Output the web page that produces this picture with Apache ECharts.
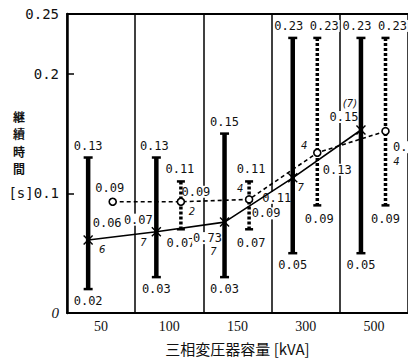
<!DOCTYPE html>
<html><head><meta charset="utf-8">
<script src="https://cdn.jsdelivr.net/npm/echarts@6/dist/echarts.min.js"></script>
<style>html,body{margin:0;padding:0;background:#fff}#c{width:408px;height:361px}</style>
</head><body><div id="c"></div><script>
// ---- data ----
const categories = ['50', '100', '150', '300', '500'];
const solidLow  = [0.02, 0.03, 0.03, 0.05, 0.05];
const solidHigh = [0.13, 0.13, 0.15, 0.23, 0.23];
const solidMean = [0.061, 0.068, 0.076, 0.113, 0.153];
const solidMeanText = ['0.06', '0.07', '0.73', '0.11', '0.15'];
const solidCount = ['6', '7', '7', '7', '(7)'];
const dashLow  = [null, 0.07, 0.07, 0.09, 0.09];
const dashHigh = [null, 0.11, 0.11, 0.23, 0.23];
const dashMean = [0.093, 0.093, 0.095, 0.134, 0.152];
const dashMeanText = ['0.09', '0.09', '0.09', '0.13', '0.15'];
const dashCount = ['', '2', '4', '4', '4'];
const yTickValues = [0, 0.1, 0.2, 0.25];
const yTickText = ['0', '[s]0.1', '0.2', '0.25'];
const xTitle = '三相変圧器容量 [kVA]';
const yTitle = '継續時間';

// ---- layout (not data) ----
const SOLID_OFF = 0.31, DASH_OFF = 0.67;
const solidTopDx = [0, -2, 0, -4, -4];
const dashTopDx = [0, -1, 2, 7, 7];
const solidMeanOffset = [[19, -17], [-18, -12], [-17, 16], [-16, 20], [-17, -13]];
const solidCountOffset = [[14, 9], [-13, 11], [-11, 29], [8, 10], [-11, -27]];
const dashMeanOffset = [[-3, -14], [15, -10], [17, 14], [20, 17], [22, 16]];
const dashCountOffset = [[0, 0], [11, 10], [-9, -11], [-13, -7], [11, 30]];
const dashLowDx = [0, 0, 2, 2, 0];
const VFONT = '12px "DejaVu Sans Mono"';
const NFONT = 'italic 10px "DejaVu Sans"';

const labels = [];
categories.forEach((c, i) => {
  const xs = i + SOLID_OFF, xd = i + DASH_OFF;
  labels.push({x: xs, y: solidHigh[i], text: solidHigh[i].toFixed(2), dx: solidTopDx[i], dy: -12, font: VFONT});
  labels.push({x: xs, y: solidLow[i], text: solidLow[i].toFixed(2), dx: 0, dy: 12, font: VFONT});
  labels.push({x: xs, y: solidMean[i], text: solidMeanText[i], dx: solidMeanOffset[i][0], dy: solidMeanOffset[i][1], font: VFONT});
  labels.push({x: xs, y: solidMean[i], text: solidCount[i], dx: solidCountOffset[i][0], dy: solidCountOffset[i][1], font: NFONT});
  if (dashHigh[i] != null) {
    labels.push({x: xd, y: dashHigh[i], text: dashHigh[i].toFixed(2), dx: dashTopDx[i], dy: -12, font: VFONT});
    labels.push({x: xd, y: dashLow[i], text: dashLow[i].toFixed(2), dx: dashLowDx[i], dy: 14, font: VFONT});
  }
  labels.push({x: xd, y: dashMean[i], text: dashMeanText[i], dx: dashMeanOffset[i][0], dy: dashMeanOffset[i][1], font: VFONT});
  if (dashCount[i]) labels.push({x: xd, y: dashMean[i], text: dashCount[i], dx: dashCountOffset[i][0], dy: dashCountOffset[i][1], font: NFONT});
});

function barRenderer(dashed) {
  return function (params, api) {
    const x = api.value(0), lo = api.value(1), hi = api.value(2);
    const pt = api.coord([x, hi]), pb = api.coord([x, lo]);
    const cw = dashed ? 4 : 4.5;
    return {type: 'group', children: [
      {type: 'line', shape: {x1: pt[0], y1: pt[1], x2: pb[0], y2: pb[1]},
       style: {stroke: '#000', lineWidth: dashed ? 3.5 : 4.5, lineDash: dashed ? [3, 2] : null}},
      {type: 'line', shape: {x1: pt[0] - cw, y1: pt[1], x2: pt[0] + cw, y2: pt[1]}, style: {stroke: '#000', lineWidth: 2.5}},
      {type: 'line', shape: {x1: pb[0] - cw, y1: pb[1], x2: pb[0] + cw, y2: pb[1]}, style: {stroke: '#000', lineWidth: 2.5}}
    ]};
  };
}

const crossPath = 'path://M0,1L1,0L5,4L9,0L10,1L6,5L10,9L9,10L5,6L1,10L0,9L4,5Z';

const titleChars = yTitle.split('').map((ch, k) => ({
  type: 'text', left: 13, top: 110 + k * 17.5,
  style: {text: ch, font: 'bold 12px "Noto Sans CJK JP"', fill: '#111'}
}));

const chart = echarts.init(document.getElementById('c'), null, {renderer: 'svg'});
chart.setOption({
  animation: false,
  backgroundColor: '#fff',
  grid: {left: 67, right: -6.5, top: 14, bottom: 48},
  xAxis: [
    {type: 'value', min: 0, max: 5, position: 'bottom',
     axisLine: {show: true, lineStyle: {color: '#000', width: 2}},
     axisTick: {show: false}, splitLine: {show: false},
     axisLabel: {customValues: [0.5, 1.5, 2.5, 3.5, 4.5], margin: 7,
       formatter: v => categories[Math.floor(v)], color: '#111', fontSize: 14, fontFamily: 'Liberation Serif'},
     name: xTitle, nameLocation: 'middle', nameGap: 28,
     nameTextStyle: {color: '#111', fontSize: 15, fontFamily: '"Noto Sans CJK JP"'}},
    {type: 'value', min: 0, max: 5, interval: 1, position: 'top',
     axisLine: {show: true, lineStyle: {color: '#000', width: 2}},
     axisTick: {show: false}, axisLabel: {show: false},
     splitLine: {show: true, lineStyle: {color: '#000', width: 1.5}}}
  ],
  yAxis: {type: 'value', min: 0, max: 0.25, interval: 0.05,
    axisLine: {show: true, lineStyle: {color: '#000', width: 2.5}},
    axisTick: {show: true, inside: true, length: 7, customValues: [0.1, 0.2], lineStyle: {color: '#000', width: 1.5}},
    splitLine: {show: false},
    axisLabel: {customValues: yTickValues, margin: 8, color: '#111', fontSize: 14, fontFamily: 'DejaVu Sans Mono',
      formatter: v => { const k = yTickValues.findIndex(t => Math.abs(t - v) < 1e-9); return k === 0 ? '{i|0}' : yTickText[k]; },
      rich: {i: {fontStyle: 'italic', fontFamily: 'Liberation Serif', fontSize: 15, color: '#111'}}}},
  graphic: titleChars,
  series: [
    {type: 'custom', name: 'labels', z: 1, silent: true, clip: false,
     data: labels.map(l => [l.x, l.y]),
     renderItem: (params, api) => {
       const l = labels[params.dataIndex];
       const p = api.coord([l.x, l.y]);
       return {type: 'text', x: p[0] + l.dx, y: p[1] + l.dy,
         style: {text: l.text, font: l.font, fill: '#111', align: 'center', verticalAlign: 'middle',
                 backgroundColor: '#fff', padding: [0, 1]}};
     }},
    {type: 'custom', name: 'solidBars', z: 2, silent: true,
     encode: {x: 0, y: [1, 2]},
     data: categories.map((c, i) => [i + SOLID_OFF, solidLow[i], solidHigh[i]]),
     renderItem: barRenderer(false)},
    {type: 'custom', name: 'dashBars', z: 2, silent: true,
     encode: {x: 0, y: [1, 2]},
     data: categories.map((c, i) => [i + DASH_OFF, dashLow[i], dashHigh[i]]).filter(d => d[1] != null),
     renderItem: barRenderer(true)},
    {type: 'line', name: 'solidMean', z: 3, silent: true,
     data: categories.map((c, i) => [i + SOLID_OFF, solidMean[i]]),
     symbol: crossPath, symbolSize: 10, itemStyle: {color: '#000'},
     lineStyle: {color: '#000', width: 1.6}},
    {type: 'line', name: 'dashMean', z: 4, silent: true,
     data: categories.map((c, i) => [i + DASH_OFF, dashMean[i]]),
     symbol: 'circle', symbolSize: 7, showAllSymbol: true,
     itemStyle: {color: '#fff', borderColor: '#000', borderWidth: 1.6},
     lineStyle: {color: '#000', width: 1.6, type: [4, 3]}}
  ]
});
</script></body></html>
